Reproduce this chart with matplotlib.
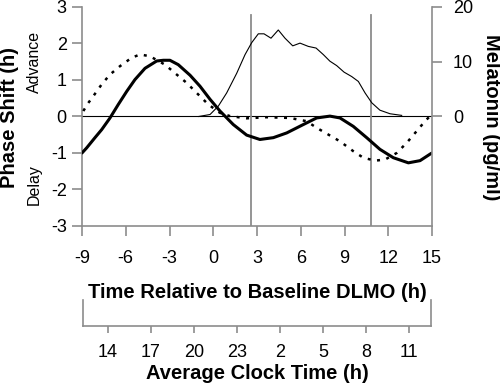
import numpy as np
import matplotlib.pyplot as plt

plt.rcParams['font.family'] = ['Liberation Sans', 'DejaVu Sans']
plt.rcParams['axes.unicode_minus'] = False

# phase response curve, thick solid (time rel. to DLMO h, phase shift h)
prc_t = [-9.0, -8.68, -8.11, -7.65, -7.08, -6.51, -5.93, -5.37, -4.68, -3.88, -3.42,
         -2.97, -2.40, -1.59, -0.91, -0.22, 0.46, 1.37, 2.29, 3.2, 4.12, 5.04, 6.18,
         7.09, 8.0, 8.69, 9.6, 10.52, 11.43, 12.35, 13.38, 14.18, 14.91, 15.0]
prc_v = [-1.0, -0.86, -0.58, -0.36, -0.04, 0.33, 0.69, 1.01, 1.32, 1.52, 1.54,
         1.54, 1.42, 1.13, 0.83, 0.47, 0.15, -0.22, -0.51, -0.63, -0.58, -0.45, -0.22,
         -0.04, 0.01, -0.04, -0.27, -0.58, -0.9, -1.13, -1.27, -1.21, -1.02, -1.0]

# second curve, dotted
dot_t = [-8.91, -8.57, -8.22, -7.65, -7.08, -6.39, -5.59, -5.02, -4.34, -3.31, -2.51,
         -1.82, -1.02, -0.34, 0.46, 1.15, 2.29, 3.66, 5.26, 6.41, 7.09, 7.78, 8.69,
         9.6, 10.29, 11.09, 11.78, 12.58, 13.27, 13.95, 14.52, 14.86]
dot_v = [0.15, 0.37, 0.56, 0.88, 1.15, 1.38, 1.61, 1.70, 1.65, 1.42, 1.15,
         0.92, 0.60, 0.33, 0.10, 0.01, -0.05, -0.02, -0.04, -0.13, -0.31, -0.47, -0.68,
         -0.95, -1.13, -1.21, -1.18, -1.0, -0.72, -0.4, -0.13, 0.01]

# melatonin profile (pg/ml)
mel_t = [-1.0, -0.22, 0.35, 0.92, 1.61, 2.18, 2.64, 3.09, 3.48, 3.96, 4.46, 4.92, 5.45,
         5.95, 6.52, 7.05, 7.55, 8.0, 8.46, 8.97, 9.49, 9.95, 10.41, 10.87, 11.43,
         12.12, 12.92]
mel_v = [0, 0.36, 1.9, 4.3, 7.9, 11.3, 13.5, 15.1, 15.1, 14.3, 15.8, 14.3, 12.9,
         13.4, 12.8, 12.5, 11.3, 10.1, 9.3, 8.1, 7.3, 6.4, 4.3, 2.5, 1.15,
         0.5, 0.2]

onset_offset = [2.6, 10.8]

rel_ticks = [-9, -6, -3, 0, 3, 6, 9, 12, 15]
shift_ticks = [-3, -2, -1, 0, 1, 2, 3]
mel_ticks = [0, 10, 20]
clock_ticks = [14, 17, 20, 23, 26, 29, 32, 35]

grey = '#8c8c8c'

fig = plt.figure(figsize=(5.0, 3.84), dpi=100)
ax = fig.add_axes([0.164, 0.4115, 0.700, 0.5703])

ax.axhline(0, color='black', lw=0.8, zorder=1)
for t in onset_offset:
    ax.plot([t, t], [-3, 2.78], color=grey, lw=1.3, zorder=1)
ax.plot(prc_t, prc_v, color='black', lw=2.2, zorder=3,
        solid_joinstyle='round', solid_capstyle='round')
ax.plot(dot_t, dot_v, color='black', lw=1.8, linestyle=(0, (1.2, 2.6)), zorder=3)

ax.set_xlim(-9, 15)
ax.set_ylim(-3, 3)
ax.set_xticks(rel_ticks)
ax.set_xticklabels([str(v) for v in rel_ticks])
ax.set_yticks(shift_ticks)
ax.set_yticklabels([str(v) for v in shift_ticks])
ax.spines['top'].set_visible(False)
ax.spines['right'].set_visible(False)
for s in ['left', 'bottom']:
    ax.spines[s].set_color(grey)
    ax.spines[s].set_linewidth(1.2)
ax.tick_params(direction='out', length=7, width=1.2, color=grey, labelsize=13, pad=4)
ax.tick_params(axis='x', pad=10)

ax2 = ax.twinx()
ax2.plot(mel_t, mel_v, color='black', lw=0.8, zorder=2)
ax2.set_ylim(-20, 20)
ax2.set_yticks(mel_ticks)
ax2.set_yticklabels([str(v) for v in mel_ticks])
for s in ['top', 'left', 'bottom']:
    ax2.spines[s].set_visible(False)
ax2.spines['right'].set_color(grey)
ax2.spines['right'].set_linewidth(1.2)
ax2.tick_params(direction='out', length=7, width=1.2, color=grey, labelsize=13, pad=8)

# clock time axis
ax3 = fig.add_axes([0.166, 0.151, 0.696, 0.068])
ax3.set_xlim(12.26, 36.54)
ax3.set_ylim(0, 1)
ax3.set_xticks(clock_ticks)
ax3.set_xticklabels([str(v % 24) for v in clock_ticks])
ax3.set_yticks([])
ax3.spines['top'].set_visible(False)
for s in ['left', 'right', 'bottom']:
    ax3.spines[s].set_color(grey)
    ax3.spines[s].set_linewidth(1.2)
ax3.patch.set_alpha(0)
ax3.tick_params(axis='x', direction='out', length=5, width=1.2, color=grey, labelsize=13, pad=8)

fig.text(0.514, 0.237, 'Time Relative to Baseline DLMO (h)', ha='center', va='center',
         fontsize=14.5, fontweight='bold')
fig.text(0.514, 0.028, 'Average Clock Time (h)', ha='center', va='center',
         fontsize=14.5, fontweight='bold')
fig.text(0.020, 0.695, 'Phase Shift (h)', rotation=90, ha='center', va='center',
         fontsize=14.5, fontweight='bold')
fig.text(0.068, 0.84, 'Advance', rotation=90, ha='center', va='center', fontsize=11.5)
fig.text(0.068, 0.52, 'Delay', rotation=90, ha='center', va='center', fontsize=11.5)
fig.text(0.982, 0.695, 'Melatonin (pg/ml)', rotation=270, ha='center', va='center',
         fontsize=14.5, fontweight='bold')

fig.savefig('out.png', dpi=100)
